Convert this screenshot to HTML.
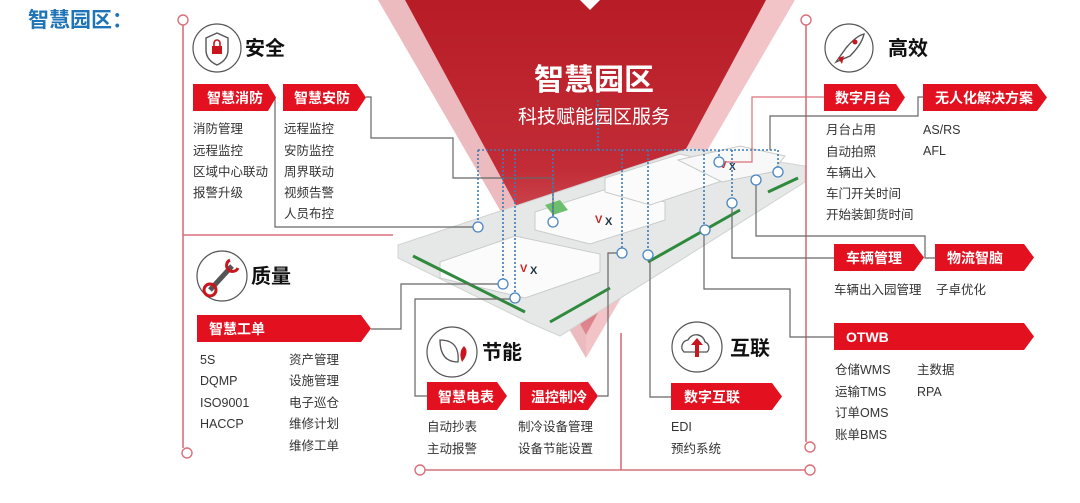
<!DOCTYPE html>
<html><head><meta charset="utf-8"><style>
html,body{margin:0;padding:0;background:#fff;}
svg{display:block;font-family:"Liberation Sans","Noto Sans CJK SC",sans-serif;}
.t{font-size:12.5px;fill:#333;}
.tag{font-size:14px;font-weight:bold;fill:#fff;}
.h{font-size:20px;font-weight:bold;fill:#111;}
.g{stroke:#666;stroke-width:1.2;fill:none;}
.r{stroke:#d9707a;stroke-width:1.6;fill:none;}
.b{stroke:#3d7bb5;stroke-width:1.6;fill:none;stroke-dasharray:2 2;}
.bc{stroke:#4a86c0;stroke-width:1.3;fill:#fff;}
.rc{stroke:#d9707a;stroke-width:1.4;fill:#fff;}
</style></head><body>
<svg width="1080" height="503" viewBox="0 0 1080 503">
<defs>
<linearGradient id="rg" x1="0" y1="0" x2="0" y2="1">
<stop offset="0" stop-color="#b81c26"/><stop offset="0.5" stop-color="#c22c36"/><stop offset="1" stop-color="#e08a92"/>
</linearGradient>
</defs>
<text x="28" y="27" font-size="21" font-weight="bold" fill="#1f74b8">智慧园区：</text>
<polygon points="378,0 795,0 586,358" fill="#f2c4c7"/>
<polygon points="405,0 766,0 586,335" fill="url(#rg)"/>
<polygon points="378,0 405,0 586,335 586,358" fill="#e8b5b9" opacity="0.6"/>
<polygon points="580,0 600,0 590,10" fill="#fff"/>
<text x="594" y="90" text-anchor="middle" font-size="30" font-weight="bold" fill="#fff">智慧园区</text>
<text x="594" y="123" text-anchor="middle" font-size="19" fill="#fff">科技赋能园区服务</text>
<!-- platform -->
<polygon points="398,245 690,148 805,166 805,182 560,336 528,322 398,258" fill="#e6e8e7" stroke="#d0d3d1"/>
<polygon points="440,262 515,236 600,254 600,272 525,298 440,278" fill="#fbfbfb" stroke="#c9ccca"/>
<polygon points="535,212 610,188 665,202 665,220 590,244 535,230" fill="#fbfbfb" stroke="#c9ccca"/>
<polygon points="605,178 680,154 725,165 725,180 650,205 605,192" fill="#fbfbfb" stroke="#c9ccca"/>
<polygon points="678,160 740,146 785,156 772,172 722,182" fill="#f8f8f8" stroke="#c9ccca"/>
<polygon points="545,205 560,200 568,210 553,215" fill="#6cbf6c"/>
<line x1="413" y1="256" x2="525" y2="312" stroke="#2f8a3e" stroke-width="3"/>
<line x1="550" y1="322" x2="610" y2="288" stroke="#2f8a3e" stroke-width="3"/>
<line x1="648" y1="262" x2="740" y2="210" stroke="#2f8a3e" stroke-width="3"/>
<line x1="768" y1="192" x2="798" y2="178" stroke="#2f8a3e" stroke-width="3"/>
<text x="520" y="272" font-size="11" font-weight="bold" fill="#c22">V</text><text x="530" y="274" font-size="11" font-weight="bold" fill="#234">X</text>
<text x="595" y="223" font-size="11" font-weight="bold" fill="#c22">V</text><text x="605" y="225" font-size="11" font-weight="bold" fill="#234">X</text>
<text x="720" y="168" font-size="10" font-weight="bold" fill="#c22">V</text><text x="729" y="170" font-size="10" font-weight="bold" fill="#234">X</text>
<path class="r" d="M183,25 V448 M183,235 H393 M806,25 V442 M425,470 H805 M621,333 V470"/>
<circle class="rc" cx="183" cy="20" r="5"/><circle class="rc" cx="187" cy="453" r="5"/>
<circle class="rc" cx="806" cy="20" r="5"/><circle class="rc" cx="810" cy="447" r="5"/>
<circle class="rc" cx="420" cy="470" r="5"/><circle class="rc" cx="810" cy="470" r="5"/>
<path class="g" d="M275,97 V227 H478"/>
<path class="g" d="M366,97 H371 V138 H453 V178 H553 V222"/>
<path class="g" d="M371,329 H401 V284 H503"/>
<path class="g" d="M427,396 H415 V299 H515"/>
<path class="g" d="M598,396 H608 V253 H622"/>
<path class="g" d="M671,397 H650 V255"/>
<path class="g" d="M834,337 H790 V289 H704 V230"/>
<path class="g" d="M834,258 H732 V203"/>
<path class="g" d="M935,258 H925 V236 H756 V180"/>
<path class="g" d="M923,97 H918 V116 H770 V150"/>
<path d="M824,97 H752 V162 H719" stroke="#d9707a" stroke-width="1.2" fill="none"/>
<path class="b" d="M478,150 H778 M478,150 V227 M503,150 V284 M515,150 V298 M553,150 V222 M598,100 V150 M622,150 V253 M648,150 V255 M704,150 V230 M732,150 V203 M778,150 V172 M719,150 V162"/>
<g>
<circle class="bc" cx="478" cy="227" r="5"/><circle class="bc" cx="553" cy="222" r="5"/>
<circle class="bc" cx="503" cy="284" r="5"/><circle class="bc" cx="515" cy="298" r="5"/>
<circle class="bc" cx="622" cy="253" r="5"/><circle class="bc" cx="648" cy="255" r="5"/>
<circle class="bc" cx="705" cy="230" r="5"/><circle class="bc" cx="732" cy="203" r="5"/>
<circle class="bc" cx="719" cy="162" r="5"/><circle class="bc" cx="756" cy="180" r="5"/>
<circle class="bc" cx="778" cy="172" r="5"/>
</g>
<g fill="none" stroke="#555" stroke-width="1.2">
<circle cx="217" cy="48" r="24"/><circle cx="849" cy="48" r="24"/>
<circle cx="222" cy="276" r="25"/><circle cx="452" cy="352" r="25"/><circle cx="697" cy="347" r="25"/>
</g>
<path d="M206,38 L217,33 L228,38 V50 Q228,60 217,65 Q206,60 206,50 Z" fill="none" stroke="#555" stroke-width="1.4"/>
<rect x="212" y="46" width="10" height="8" fill="#c9151e"/><path d="M214,46 V43 a3,3 0 0 1 6,0 V46" stroke="#c9151e" stroke-width="1.6" fill="none"/>
<path d="M836,62 L846,48 Q856,36 864,34 Q862,44 850,56 Z" fill="none" stroke="#555" stroke-width="1.4"/>
<circle cx="855" cy="42" r="2.5" fill="#c9151e"/><path d="M838,58 l6,-2 l-2,8 z" fill="#c9151e"/>
<path d="M210,290 L232,266" stroke="#555" stroke-width="5"/><circle cx="210" cy="290" r="6" fill="none" stroke="#c9151e" stroke-width="3"/>
<path d="M230,260 a6,6 0 1 0 8,8" stroke="#c9151e" stroke-width="3" fill="none"/>
<path d="M440,340 Q460,340 458,362 Q440,362 440,340 Z" fill="none" stroke="#555" stroke-width="1.3"/>
<path d="M464,346 Q470,352 462,362 Q458,352 464,346 Z" fill="#c9151e"/>
<path d="M684,352 a7,7 0 0 1 4,-12 a9,9 0 0 1 17,2 a6,6 0 0 1 2,10 Z" fill="none" stroke="#555" stroke-width="1.3"/>
<path d="M697,338 l-6,7 h4 v12 h4 v-12 h4 Z" fill="#c9151e"/>
<text class="h" x="245" y="55">安全</text>
<text class="h" x="888" y="55">高效</text>
<text class="h" x="251" y="283">质量</text>
<text class="h" x="482" y="359">节能</text>
<text class="h" x="730" y="355">互联</text>
<g fill="#e3101f">
<polygon points="193,84 268,84 276,97.5 268,111 193,111"/>
<polygon points="283,84 357,84 366,97.5 357,111 283,111"/>
<polygon points="824,84 896,84 905,97.5 896,111 824,111"/>
<polygon points="923,84 1037,84 1047,97.5 1037,111 923,111"/>
<polygon points="834,244 914,244 924,257.5 914,271 834,271"/>
<polygon points="935,244 1024,244 1034,257.5 1024,271 935,271"/>
<polygon points="834,323 1024,323 1034,336.5 1024,350 834,350"/>
<polygon points="671,383 772,383 782,396.5 772,410 671,410"/>
<polygon points="197,315 361,315 371,328.5 361,342 197,342"/>
<polygon points="427,382 497,382 507,396 497,410 427,410"/>
<polygon points="520,382 588,382 598,396 588,410 520,410"/>
</g>
<text class="tag" x="207" y="103">智慧消防</text>
<text class="tag" x="294" y="103">智慧安防</text>
<text class="tag" x="835" y="103">数字月台</text>
<text class="tag" x="935" y="103">无人化解决方案</text>
<text class="tag" x="846" y="263">车辆管理</text>
<text class="tag" x="947" y="263">物流智脑</text>
<text class="tag" x="846" y="342">OTWB</text>
<text class="tag" x="684" y="402">数字互联</text>
<text class="tag" x="209" y="334">智慧工单</text>
<text class="tag" x="438" y="402">智慧电表</text>
<text class="tag" x="531" y="402">温控制冷</text>
<g class="t">
<text x="193" y="133">消防管理</text><text x="193" y="155">远程监控</text><text x="193" y="176">区域中心联动</text><text x="193" y="197">报警升级</text>
<text x="284" y="133">远程监控</text><text x="284" y="155">安防监控</text><text x="284" y="176">周界联动</text><text x="284" y="197">视频告警</text><text x="284" y="218">人员布控</text>
<text x="826" y="134">月台占用</text><text x="826" y="156">自动拍照</text><text x="826" y="177">车辆出入</text><text x="826" y="198">车门开关时间</text><text x="826" y="219">开始装卸货时间</text>
<text x="923" y="134">AS/RS</text><text x="923" y="155">AFL</text>
<text x="834" y="294">车辆出入园管理</text><text x="936" y="294">子卓优化</text>
<text x="835" y="374">仓储WMS</text><text x="835" y="396">运输TMS</text><text x="835" y="417">订单OMS</text><text x="835" y="439">账单BMS</text>
<text x="917" y="374">主数据</text><text x="917" y="396">RPA</text>
<text x="671" y="431">EDI</text><text x="671" y="453">预约系统</text>
<text x="200" y="364">5S</text><text x="200" y="385">DQMP</text><text x="200" y="407">ISO9001</text><text x="200" y="428">HACCP</text>
<text x="289" y="364">资产管理</text><text x="289" y="385">设施管理</text><text x="289" y="407">电子巡仓</text><text x="289" y="428">维修计划</text><text x="289" y="450">维修工单</text>
<text x="427" y="431">自动抄表</text><text x="427" y="453">主动报警</text>
<text x="518" y="431">制冷设备管理</text><text x="518" y="453">设备节能设置</text>
</g>
</svg>
</body></html>
